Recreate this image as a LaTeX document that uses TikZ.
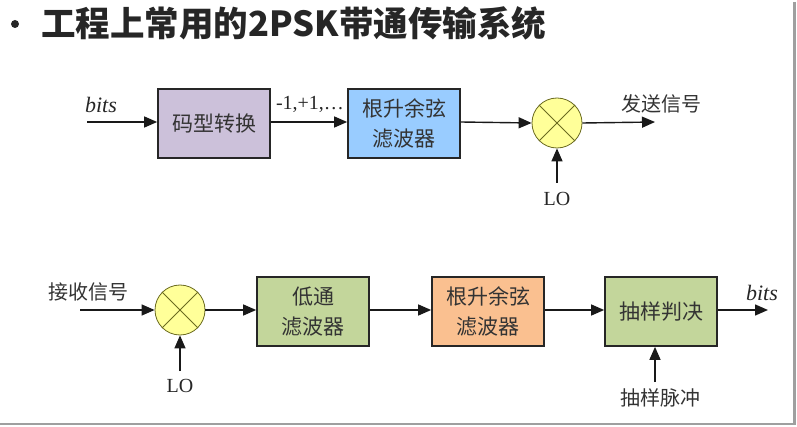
\documentclass[tikz,border=0pt]{standalone}
\usepackage{fontspec}
\setmainfont{Liberation Serif}
\newfontfamily\cjk{Noto Sans CJK SC}
\usetikzlibrary{arrows.meta}
\definecolor{lav}{HTML}{CCC1DA}
\definecolor{skyb}{HTML}{99CCFF}
\definecolor{olivegr}{HTML}{C3D69B}
\definecolor{peach}{HTML}{FAC090}
\definecolor{mixy}{HTML}{FFFF99}
\definecolor{mixline}{HTML}{6B6B20}
\begin{document}
\begin{tikzpicture}[x=1pt,y=-1pt,
  blk/.style={draw=black!85, line width=1.7pt, minimum width=112pt, minimum height=69pt,
    inner sep=0pt, align=center, font=\cjk\fontsize{21}{30}\selectfont, text=black!80},
  mix/.style={circle, draw=mixline, line width=0.8pt, fill=mixy, minimum size=50pt, inner sep=0pt},
  sig/.style={line width=1.4pt, draw=black!90, -{Triangle[length=13pt,width=11pt]}},
  lbl/.style={font=\cjk\fontsize{20}{24}\selectfont, text=black!80, inner sep=0pt},
  lat/.style={font=\fontsize{20}{24}\selectfont, text=black!85, inner sep=0pt},
  bitl/.style={font=\itshape\fontsize{22}{26}\selectfont, text=black!85, inner sep=0pt}]
\useasboundingbox (0,0) rectangle (797,427);
% frame shadow
\draw[line width=2.5pt, gray!75] (794.5,2) -- (794.5,424);
\draw[line width=2.5pt, gray!75] (0,424) -- (795.5,424);
% title
\fill[black!85] (15,24) circle (4pt);
\node[anchor=west, inner sep=0pt, text=black!85] (title) at (41,23)
  {\cjk\bfseries\fontsize{34.5}{38}\selectfont 工程上常用的2PSK带通传输系统};
% top row
\node[blk, fill=lav] (b1) at (214,123.5) {码型转换};
\node[blk, fill=skyb] (b2) at (404,123.5) {根升余弦\\滤波器};
\node[mix] (m1) at (557,123) {};
\draw[mixline, line width=0.8pt] (m1.north east) -- (m1.south west) (m1.north west) -- (m1.south east);
\coordinate (tin) at (87,122);
\coordinate (tout) at (655,122);
\coordinate (lo1s) at (557,183);
\draw[sig] (tin) -- (b1.west |- tin);
\draw[sig] (b1.east |- tin) -- (b2.west |- tin);
\draw[sig] (b2.east |- tin) -- (m1.west);
\draw[sig] (m1.east) -- (tout);
\draw[sig] (lo1s) -- (m1.south);
\node[bitl] (bits1) at (101,105) {bits};
\node[lat] (lvl) at (310,104) {-1,+1,…};
\node[lbl] (tx) at (661,104) {发送信号};
\node[lat] (lo1) at (557,199) {LO};
% bottom row
\node[mix] (m2) at (180,310) {};
\draw[mixline, line width=0.8pt] (m2.north east) -- (m2.south west) (m2.north west) -- (m2.south east);
\node[blk, fill=olivegr] (c1) at (313,311.5) {低通\\滤波器};
\node[blk, fill=peach] (c2) at (488,311.5) {根升余弦\\滤波器};
\node[blk, fill=olivegr] (c3) at (661,311.5) {抽样判决};
\coordinate (rin) at (80,310);
\coordinate (rout) at (768,310);
\coordinate (lo2s) at (180,371);
\coordinate (ps) at (655,382);
\draw[sig] (rin) -- (m2.west);
\draw[sig] (m2.east) -- (c1.west |- m2.east);
\draw[sig] (c1.east |- rin) -- (c2.west |- rin);
\draw[sig] (c2.east |- rin) -- (c3.west |- rin);
\draw[sig] (c3.east |- rin) -- (rout);
\draw[sig] (lo2s) -- (m2.south);
\draw[sig] (ps) -- (ps |- c3.south);
\node[lbl] (rx) at (88,292) {接收信号};
\node[bitl] (bits2) at (762,293) {bits};
\node[lat] (lo2) at (180,386) {LO};
\node[lbl] (pulse) at (660,398) {抽样脉冲};
\end{tikzpicture}
\end{document}
